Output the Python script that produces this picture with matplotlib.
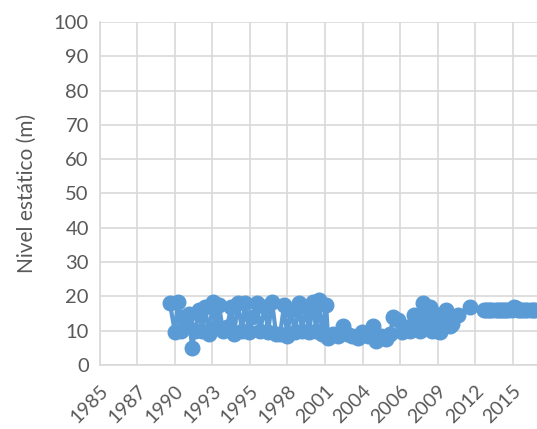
import numpy as np
import pandas as pd
import matplotlib
matplotlib.use("Agg")
import matplotlib.pyplot as plt
import matplotlib.dates as mdates

# decimal years and static level (m)
years = [1990.11, 1990.48, 1990.70, 1990.92, 1991.06, 1991.28, 1991.50, 1991.72,
         1991.94, 1992.23, 1992.45, 1992.67, 1992.96, 1993.25, 1993.47, 1993.69,
         1993.98, 1994.28, 1994.57, 1994.79, 1995.08, 1995.37, 1995.59, 1995.88,
         1996.10, 1996.47, 1996.69, 1997.05, 1997.27, 1997.56, 1997.86, 1998.15,
         1998.44, 1998.66, 1998.95, 1999.24, 1999.54, 1999.75, 2000.05, 2000.27,
         2000.56, 2000.78, 2001.00, 2001.22, 2001.51, 2001.65, 2002.02, 2002.39,
         2002.75, 2003.04, 2003.41, 2003.85, 2004.14, 2004.58, 2004.94, 2005.16,
         2005.53, 2005.89, 2006.18, 2006.40, 2006.77, 2007.06, 2007.35, 2007.64,
         2007.94, 2008.23, 2008.37, 2008.59, 2008.81, 2008.96, 2009.11, 2009.25,
         2009.47, 2009.62, 2009.84, 2010.05, 2010.27, 2010.57, 2010.71, 2011.15,
         2012.03, 2013.05, 2013.20, 2013.35, 2013.49, 2013.64, 2013.93, 2014.08,
         2014.22, 2014.37, 2014.51, 2014.66, 2014.80, 2015.04, 2015.20, 2015.35,
         2015.50, 2015.64, 2015.78, 2016.05, 2016.20, 2016.45, 2016.62, 2016.78]
nivel = [18.0, 9.5, 18.5, 10.0, 14.0, 12.0, 15.0, 5.0,
         10.0, 16.0, 10.0, 17.0, 9.0, 18.5, 11.0, 17.5,
         10.0, 11.0, 17.0, 9.0, 18.0, 10.0, 18.0, 9.5,
         14.0, 18.0, 10.0, 17.0, 9.5, 18.5, 9.0, 9.0,
         17.5, 8.5, 16.0, 9.5, 18.0, 10.0, 17.0, 9.5,
         18.5, 10.0, 19.0, 9.0, 17.5, 8.0, 9.0, 8.5,
         11.5, 9.0, 8.5, 8.0, 9.5, 8.5, 11.5, 7.0,
         8.5, 7.5, 9.0, 14.0, 13.0, 9.5, 11.0, 10.0,
         14.5, 11.0, 10.0, 18.0, 15.0, 12.0, 17.0, 10.0,
         15.0, 10.0, 9.5, 14.0, 16.0, 11.5, 12.0, 14.5,
         17.0, 16.0, 16.0, 16.0, 16.0, 16.0, 16.0, 16.0,
         16.0, 16.0, 16.0, 16.0, 16.0, 16.0, 17.0, 16.5,
         16.0, 16.0, 16.0, 16.0, 16.0, 16.0, 16.0, 16.0]


def to_date(y):
    base = pd.Timestamp(int(y), 1, 1)
    return base + pd.Timedelta(days=(y - int(y)) * 365.25)


dates = [to_date(y) for y in years]

BLUE = "#5b9bd5"
GRID = "#d9d9d9"
TXT = "#595959"
plt.rcParams["font.family"] = ["Lato", "DejaVu Sans"]

fig = plt.figure(figsize=(5.37, 4.29), dpi=100)
ax = fig.add_axes([0.186, 0.149, 0.814, 0.800])

ax.plot(dates, nivel, color=BLUE, lw=3, marker="o", ms=10.5, mec=BLUE, mfc=BLUE, zorder=3)

start = pd.Timestamp("1985-01-01")
ticks = [start + pd.Timedelta(days=1000 * k) for k in range(12)]
ax.set_xticks(ticks)
ax.xaxis.set_major_formatter(mdates.DateFormatter("%Y"))
ax.set_xlim(start, start + pd.Timedelta(days=11650))
ax.set_ylim(0, 100)
ax.set_yticks(np.arange(0, 101, 10))

ax.grid(True, color=GRID, lw=1.2, zorder=0)
ax.set_axisbelow(True)
for s in ("top", "right"):
    ax.spines[s].set_visible(False)
for s in ("left", "bottom"):
    ax.spines[s].set_color(GRID)
    ax.spines[s].set_linewidth(1.2)
ax.tick_params(axis="y", length=0, labelsize=14.5, colors=TXT, pad=8)
ax.tick_params(axis="x", length=0, labelsize=14, colors=TXT, pad=12)
plt.setp(ax.get_xticklabels(), rotation=45, ha="right", rotation_mode="anchor")
ax.set_ylabel("Nivel estático (m)", fontsize=15, color=TXT, labelpad=12)

fig.savefig("out.png", dpi=100)
